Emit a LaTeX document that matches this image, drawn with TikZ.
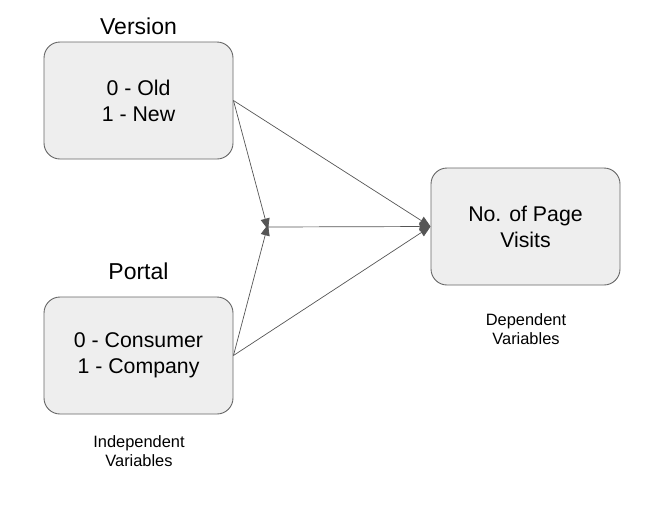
\documentclass[tikz,border=0pt]{standalone}
\usepackage{fontspec}
\setmainfont{Liberation Sans}
\usetikzlibrary{arrows.meta,positioning}
\definecolor{boxfill}{HTML}{EEEEEE}
\definecolor{boxline}{HTML}{666666}
\definecolor{arrline}{HTML}{555555}
\tikzset{
  varbox/.style={draw=boxline, fill=boxfill, rounded corners=16pt, line width=0.9pt,
    minimum width=189pt, minimum height=117pt, align=center, inner sep=0pt,
    font=\fontsize{21.3}{26}\selectfont},
  head/.style={font=\fontsize{23}{26}\selectfont, inner sep=0pt},
  note/.style={font=\fontsize{16.4}{19.5}\selectfont, align=center, inner sep=0pt},
  link/.style={draw=arrline, line width=0.7pt, -{Triangle[length=11pt,width=9pt]}}
}
\begin{document}
\begin{tikzpicture}[x=1pt,y=-1pt]
\useasboundingbox (0,0) rectangle (660,504);
% boxes
\node[varbox] (version) at (138.5,100.5) {0 - Old\\1 - New};
\node[varbox] (portal) at (138.5,355.5) {0 - Consumer\\1 - Company};
\node[varbox] (visits) at (525.5,226.5) {No. of Page\\Visits};
% titles
\node[head] (vtitle) at (138.5,26) {Version};
\node[head] (ptitle) at (138.5,271) {Portal};
\node[note] (indep) at (139,451) {Independent\\Variables};
\node[note] (dep) at (526,329) {Dependent\\Variables};
% connectors
\coordinate (vout) at (version.east);
\coordinate (pout) at (portal.east);
\coordinate (mid) at (268,227);
\draw[link] (vout) -- ([yshift=-2.5pt]mid);
\draw[link] (pout) -- ([yshift=2.5pt]mid);
\draw[link] (mid) -- (visits.west);
\draw[link] (vout) -- (visits.west);
\draw[link] (pout) -- (visits.west);
\end{tikzpicture}
\end{document}
